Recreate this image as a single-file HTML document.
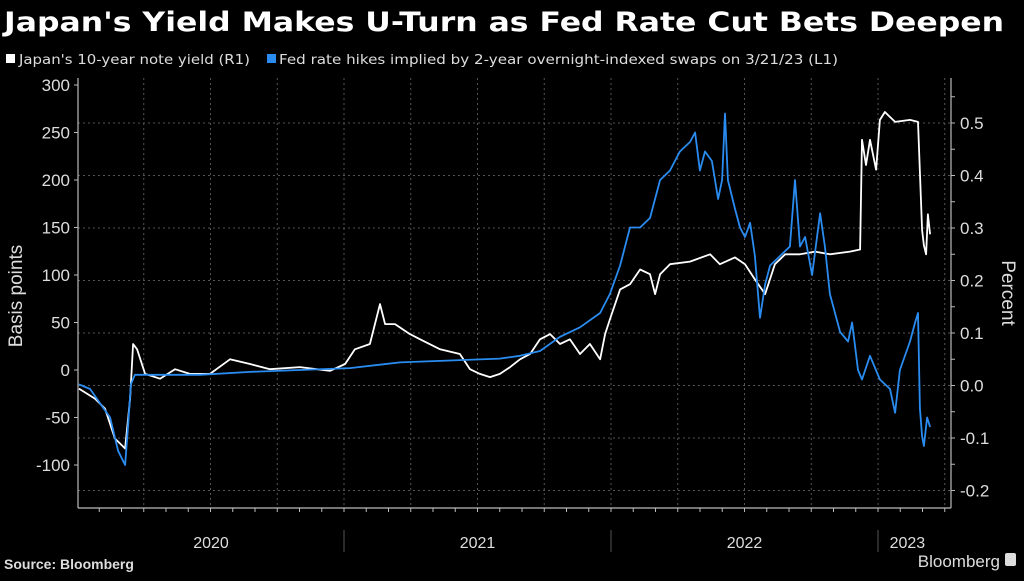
<!DOCTYPE html>
<html><head><meta charset="utf-8"><style>
html,body{margin:0;padding:0;background:#000;}
body{width:1024px;height:576px;overflow:hidden;font-family:"Liberation Sans",sans-serif;color:#fff;}
</style></head><body>
<svg id="chart" width="1024" height="576" viewBox="0 0 1024 576" xmlns="http://www.w3.org/2000/svg" font-family="Liberation Sans, sans-serif">
<rect width="1024" height="576" fill="#000"/>
<text x="4" y="31" font-size="27" font-weight="bold" fill="#fff" font-family="DejaVu Sans, sans-serif" textLength="1000" lengthAdjust="spacingAndGlyphs">Japan's Yield Makes U-Turn as Fed Rate Cut Bets Deepen</text>
<g font-family="DejaVu Sans, sans-serif">
<rect x="6" y="54" width="9" height="9" fill="#fff"/>
<text x="19" y="64" font-size="13" fill="#ddd" textLength="231" lengthAdjust="spacingAndGlyphs">Japan's 10-year note yield (R1)</text>
<rect x="267" y="54" width="9" height="9" fill="#2a8cf0"/>
<text x="279" y="64" font-size="13" fill="#ddd" textLength="559" lengthAdjust="spacingAndGlyphs">Fed rate hikes implied by 2-year overnight-indexed swaps on 3/21/23 (L1)</text>
</g>
<g id="grid"></g>
<g id="axes"></g>
<g id="series"></g>
<text transform="translate(22,296) rotate(-90)" text-anchor="middle" font-size="19" fill="#ddd">Basis points</text>
<text transform="translate(1002,293) rotate(90)" text-anchor="middle" font-size="19" fill="#ddd">Percent</text>
<text x="4" y="569" font-size="14" font-weight="bold" fill="#ddd">Source: Bloomberg</text>
<text x="1000" y="567" text-anchor="end" font-size="17" fill="#ddd">Bloomberg</text>
<rect x="1005" y="553" width="11" height="13" rx="2" fill="#ddd"/>
</svg>
<script>
const blueT=[0.007,0.049,0.086,0.124,0.154,0.180,0.191,0.202,0.217,0.273,0.461,0.648,0.835,1.022,1.210,1.397,1.584,1.659,1.734,1.809,1.884,1.959,1.996,2.034,2.071,2.109,2.146,2.184,2.221,2.258,2.296,2.315,2.333,2.352,2.378,2.401,2.416,2.427,2.438,2.464,2.483,2.502,2.521,2.539,2.558,2.577,2.596,2.633,2.670,2.689,2.708,2.727,2.753,2.783,2.801,2.820,2.839,2.858,2.888,2.903,2.925,2.940,2.970,3.007,3.045,3.064,3.082,3.120,3.139,3.150,3.157,3.165,3.172,3.184,3.195];
const blueBp=[-15,-20,-35,-50,-85,-100,-60,-15,-5,-5,-5,-2,0,2,8,10,12,15,20,35,45,60,80,110,150,150,160,200,210,230,240,250,210,230,220,180,200,270,200,170,150,140,155,120,55,90,110,120,130,200,130,140,100,165,130,80,60,40,30,50,0,-10,15,-10,-20,-45,0,30,50,60,-40,-70,-80,-50,-60];
const whiteT=[0.007,0.067,0.105,0.142,0.180,0.199,0.210,0.225,0.255,0.311,0.367,0.423,0.498,0.573,0.648,0.723,0.835,0.948,1.004,1.041,1.097,1.135,1.154,1.191,1.247,1.285,1.360,1.434,1.472,1.509,1.547,1.584,1.622,1.659,1.697,1.734,1.772,1.809,1.846,1.884,1.921,1.959,1.978,1.996,2.034,2.071,2.109,2.146,2.165,2.184,2.221,2.296,2.371,2.408,2.464,2.502,2.539,2.577,2.614,2.652,2.708,2.764,2.820,2.895,2.933,2.940,2.955,2.970,2.993,3.007,3.026,3.064,3.120,3.150,3.165,3.172,3.180,3.187,3.195];
const whitePct=[-0.006,-0.025,-0.044,-0.101,-0.12,-0.025,0.079,0.069,0.022,0.013,0.031,0.022,0.022,0.05,0.041,0.031,0.035,0.028,0.041,0.069,0.079,0.155,0.117,0.117,0.098,0.088,0.069,0.06,0.031,0.022,0.016,0.022,0.035,0.05,0.06,0.088,0.098,0.079,0.088,0.06,0.079,0.05,0.098,0.126,0.183,0.193,0.221,0.212,0.174,0.212,0.231,0.236,0.25,0.231,0.244,0.231,0.202,0.174,0.231,0.25,0.25,0.255,0.25,0.255,0.259,0.468,0.42,0.468,0.411,0.506,0.521,0.502,0.506,0.502,0.296,0.267,0.25,0.326,0.288];
const leftTicks=[300,250,200,150,100,50,0,-50,-100];
const rightTicks=[0.5,0.4,0.3,0.2,0.1,0,-0.1,-0.2];
const yearLabels=["2020","2021","2022","2023"];

const NS="http://www.w3.org/2000/svg";
const X0=78,X1=951,Y0=78,Y1=508;
const xS=t=>77+t*267;
const yL=v=>370-0.95*v;
const yR=v=>385.5-525*v;
function mk(tag,attrs,parent){const e=document.createElementNS(NS,tag);for(const k in attrs)e.setAttribute(k,attrs[k]);parent.appendChild(e);return e;}
const grid=document.getElementById('grid'),axes=document.getElementById('axes'),series=document.getElementById('series');
for(let q=1;q<14;q++){const x=xS(q/4);if(x>=X1-5)break;
 const l=mk('line',{x1:x,x2:x,y1:Y0,y2:Y1,stroke:'#555','stroke-dasharray':'2,3','stroke-width':1},grid);
 
 }
rightTicks.forEach(v=>{const y=yR(v);
 const l=mk('line',{x1:X0,x2:X1,y1:y,y2:y,stroke:'#555','stroke-dasharray':'2,3','stroke-width':1},grid);
 
 });
[['left-axis-line',X0,Y0,X0,Y1],['right-axis-line',X1,Y0,X1,Y1],['x-axis-line',X0,Y1,X1,Y1]].forEach(a=>{
 const l=mk('line',{x1:a[1],y1:a[2],x2:a[3],y2:a[4],stroke:'#bbb','stroke-width':1.2},axes);
 
 });
leftTicks.forEach(v=>{const y=yL(v);
 mk('line',{x1:X0-4,x2:X0,y1:y,y2:y,stroke:'#bbb'},axes);
 const t=mk('text',{x:X0-8,y:y+6,'text-anchor':'end','font-size':17,fill:'#ddd'},axes);t.textContent=v;
 
 });
for(let v=-0.2;v<=0.55;v+=0.05){const y=yR(v);mk('line',{x1:X1,x2:X1+4,y1:y,y2:y,stroke:'#bbb'},axes);}
rightTicks.forEach(v=>{const y=yR(v);
 const t=mk('text',{x:X1+9,y:y+6,'font-size':17,fill:'#ddd'},axes);t.textContent=(v===0?'0.0':String(v));
 
 });
for(let m=1;m<40;m++){const x=xS(m/12);if(x>=X1-2)break;mk('line',{x1:x,x2:x,y1:Y1,y2:Y1+4,stroke:'#bbb'},axes);}
yearLabels.forEach((lab,i)=>{
 const xa=xS(i),xb=Math.min(xS(i+1),xS(3.22));
 const t=mk('text',{x:(Math.max(xa,X0)+xb)/2,y:548,'text-anchor':'middle','font-size':16,fill:'#ddd'},axes);t.textContent=lab;
 
 
 if(i>0){const l=mk('line',{x1:xa,x2:xa,y1:530,y2:552,stroke:'#555'},axes);
  
  }});
function path(ts,vs,ys,color,name){
 const d=ts.map((t,i)=>(i?'L':'M')+xS(t).toFixed(1)+','+ys(vs[i]).toFixed(1)).join('');
 const p=mk('path',{d:d,fill:'none',stroke:color,'stroke-width':1.8,'stroke-linejoin':'round'},series);
 
 }
path(whiteT,whitePct,yR,'#ffffff','japan-yield-line');
path(blueT,blueBp,yL,'#2a8cf0','fed-hikes-line');
</script>
</body></html>
